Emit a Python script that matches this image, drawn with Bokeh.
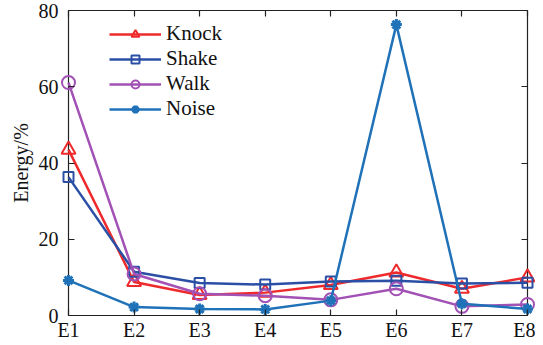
from bokeh.plotting import figure
from bokeh.models import LinearAxis, FixedTicker, Range1d, Legend
from bokeh.embed import file_html
from bokeh.resources import INLINE

categories = ["E1", "E2", "E3", "E4", "E5", "E6", "E7", "E8"]
knock = [43.5, 8.8, 5.4, 6.0, 8.0, 11.3, 7.0, 10.0]
shake = [36.3, 11.5, 8.5, 8.1, 8.9, 9.1, 8.4, 8.6]
walk = [61.1, 10.9, 5.7, 5.2, 4.1, 7.0, 2.4, 2.9]
noise = [9.2, 2.2, 1.7, 1.6, 3.9, 76.3, 3.1, 1.7]
y_ticks = [0, 20, 40, 60, 80]

xs = list(range(1, len(categories) + 1))
FONT = "'Liberation Serif'"

# box (axes frame) size in px and padding so edge markers are not clipped
BOX_W, BOX_H, PAD = 459, 305, 8
dx = PAD * (xs[-1] - xs[0]) / BOX_W
dy = PAD * (y_ticks[-1] - y_ticks[0]) / BOX_H

p = figure(output_backend="svg", toolbar_location=None,
           x_range=Range1d(xs[0] - dx, xs[-1] + dx),
           y_range=Range1d(y_ticks[0] - dy, y_ticks[-1] + dy),
           frame_width=BOX_W + 2 * PAD, frame_height=BOX_H + 2 * PAD,
           min_border_left=60, min_border_top=2, min_border_right=0, min_border_bottom=22,
           x_axis_location=None, y_axis_location=None)
p.background_fill_color = "white"
p.border_fill_color = "white"
p.outline_line_color = None
p.xgrid.visible = False
p.ygrid.visible = False

def style_axis(ax, labels=True):
    ax.major_tick_in = PAD + 6
    ax.major_tick_out = -PAD
    ax.minor_tick_in = 0
    ax.minor_tick_out = 0
    ax.minor_tick_line_color = None
    ax.axis_line_color = None
    ax.major_tick_line_color = "#222222"
    ax.major_tick_line_width = 1.2
    ax.major_label_text_font = FONT
    ax.major_label_text_font_size = "20px"
    ax.major_label_text_color = "#111111"
    if not labels:
        ax.major_label_text_font_size = "0px"
        ax.major_label_text_color = None
        ax.major_label_standoff = 0

xb = LinearAxis(ticker=FixedTicker(ticks=xs),
                major_label_overrides={x: c for x, c in zip(xs, categories)})
style_axis(xb)
xb.major_label_standoff = -5
p.add_layout(xb, "below")
xt = LinearAxis(ticker=FixedTicker(ticks=xs))
style_axis(xt, labels=False)
p.add_layout(xt, "above")
yl = LinearAxis(ticker=FixedTicker(ticks=y_ticks), axis_label="Energy/%")
style_axis(yl)
yl.major_label_standoff = 2
yl.axis_label_text_font = FONT
yl.axis_label_text_font_size = "20px"
yl.axis_label_text_font_style = "normal"
yl.axis_label_text_color = "#111111"
yl.axis_label_standoff = 4
p.add_layout(yl, "left")
yr = LinearAxis(ticker=FixedTicker(ticks=y_ticks))
style_axis(yr, labels=False)
p.add_layout(yr, "right")

# axes box
p.quad(left=xs[0], right=xs[-1], bottom=y_ticks[0], top=y_ticks[-1],
       fill_color=None, line_color="#222222", line_width=1.2)

C_KNOCK = "#EE2A2D"
C_SHAKE = "#2A4FA5"
C_WALK = "#A251B5"
C_NOISE = "#1F72B8"
LW = 2.5

r1 = p.line(xs, knock, color=C_KNOCK, line_width=LW)
m1 = p.scatter(xs, knock, marker="triangle", size=14, line_color=C_KNOCK, fill_color=None, line_width=2)
r2 = p.line(xs, shake, color=C_SHAKE, line_width=LW)
m2 = p.scatter(xs, shake, marker="square", size=10, line_color=C_SHAKE, fill_color=None, line_width=2)
r3 = p.line(xs, walk, color=C_WALK, line_width=LW)
m3 = p.scatter(xs, walk, marker="circle", size=13, line_color=C_WALK, fill_color=None, line_width=2)
r4 = p.line(xs, noise, color=C_NOISE, line_width=LW)
m4 = p.scatter(xs, noise, marker="asterisk", size=11, line_color=C_NOISE, line_width=3)

legend = Legend(items=[("Knock", [r1, m1]), ("Shake", [r2, m2]),
                       ("Walk", [r3, m3]), ("Noise", [r4, m4])],
                location=(PAD + 41, 202))
legend.border_line_color = None
legend.background_fill_alpha = 0
legend.padding = 0
legend.margin = 0
legend.spacing = -3
legend.glyph_width = 52
legend.glyph_height = 20
legend.label_height = 20
legend.label_standoff = 5
legend.label_text_font = FONT
legend.label_text_font_size = "21px"
legend.label_text_line_height = 1.0
legend.label_text_color = "#111111"
p.add_layout(legend, "center")

open("out.html", "w").write(file_html(p, INLINE))
